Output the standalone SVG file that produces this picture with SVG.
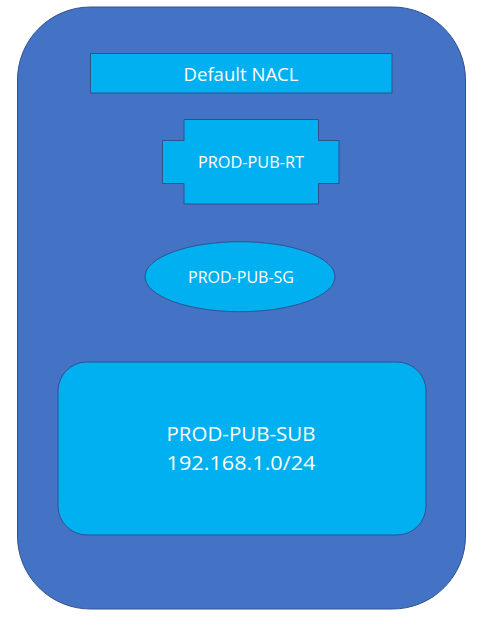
<svg xmlns="http://www.w3.org/2000/svg" width="481" height="618" viewBox="0 0 481 618">
<style>
.shape{fill:#00B0F0;stroke:#2F528F;stroke-width:1}
.outer{fill:#4472C4;stroke:#2F528F;stroke-width:1}
.lbl{fill:#FFFFFF;font-family:"Open Sans","Liberation Sans",Arial,sans-serif;text-anchor:middle}
</style>
<rect width="481" height="618" fill="#FFFFFF"/>
<g id="vpc">
<rect class="outer" x="17.5" y="7" width="448" height="602" rx="73" ry="73"/>
</g>
<g id="nacl">
<rect class="shape" x="90.5" y="53.5" width="301.5" height="39.5"/>
<text class="lbl" x="241" y="80.5" font-size="19" textLength="115" lengthAdjust="spacingAndGlyphs">Default NACL</text>
</g>
<g id="rt">
<path class="shape" d="M184,119.5 H318.5 V140.5 H339 V183.5 H318.5 V204 H184 V183.5 H162.5 V140.5 H184 Z"/>
<text class="lbl" x="251" y="168" font-size="17" textLength="106" lengthAdjust="spacingAndGlyphs">PROD-PUB-RT</text>
</g>
<g id="sg">
<ellipse class="shape" cx="240" cy="276.7" rx="95" ry="35"/>
<text class="lbl" x="241" y="282.5" font-size="17" textLength="106" lengthAdjust="spacingAndGlyphs">PROD-PUB-SG</text>
</g>
<g id="sub">
<rect class="shape" x="58" y="362" width="368" height="173" rx="29" ry="29"/>
<text class="lbl" x="241" y="441" font-size="20" textLength="149" lengthAdjust="spacingAndGlyphs">PROD-PUB-SUB</text>
<text class="lbl" x="241" y="470" font-size="20" textLength="149" lengthAdjust="spacingAndGlyphs">192.168.1.0/24</text>
</g>
<g id="connectors"></g>
</svg>
